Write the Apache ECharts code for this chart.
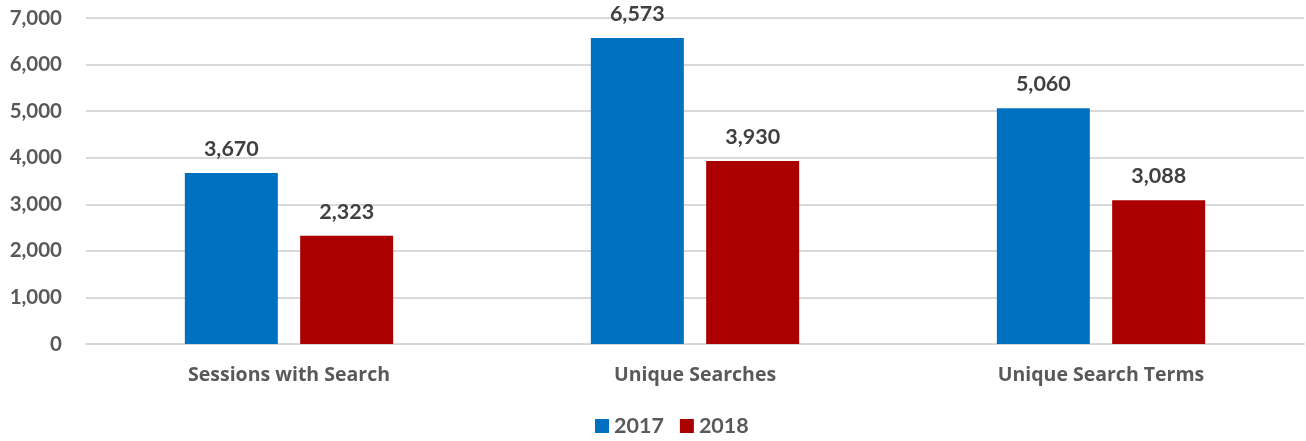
<!DOCTYPE html>
<html>
<head>
<meta charset="utf-8">
<script src="https://cdn.jsdelivr.net/npm/echarts@6/dist/echarts.min.js"></script>
<style>
  html, body { margin: 0; padding: 0; background: #fff; }
  #chart { width: 1306px; height: 441px; }
</style>
</head>
<body>
<div id="chart"></div>
<script>
// Search activity by year
const categories = ['Sessions with Search', 'Unique Searches', 'Unique Search Terms'];
const values2017 = [3670, 6573, 5060];
const values2018 = [2323, 3930, 3088];
const seriesNames = ['2017', '2018'];

const FONT = 'Lato, "Open Sans", sans-serif';
const WIDE_FONT = '"Open Sans", Lato, sans-serif';

const chart = echarts.init(document.getElementById('chart'), null, { renderer: 'canvas' });

const labelStyle = {
  show: true,
  position: 'top',
  distance: 13,
  fontFamily: FONT,
  fontWeight: 'bold',
  fontSize: 21.5,
  color: '#404040',
  formatter: p => p.value.toLocaleString('en-US')
};

chart.setOption({
  animation: false,
  grid: { left: 86, right: 2, top: 18, bottom: 97, containLabel: false },
  legend: {
    data: seriesNames,
    bottom: -1,
    left: 590,
    itemWidth: 14,
    itemHeight: 14,
    itemGap: 16,
    icon: 'rect',
    textStyle: { fontFamily: FONT, fontWeight: 'bold', fontSize: 21.5, color: '#595959' }
  },
  xAxis: {
    type: 'category',
    data: categories,
    axisLine: { show: true, lineStyle: { color: '#d9d9d9', width: 2 } },
    axisTick: { show: false },
    axisLabel: {
      margin: 21,
      fontFamily: WIDE_FONT,
      fontWeight: 'bold',
      fontSize: 19.5,
      color: '#595959'
    }
  },
  yAxis: {
    type: 'value',
    min: 0,
    max: 7000,
    interval: 1000,
    axisLine: { show: false },
    axisTick: { show: false },
    splitLine: { lineStyle: { color: '#d9d9d9', width: 2 } },
    axisLabel: {
      margin: 24,
      fontFamily: FONT,
      fontWeight: 'bold',
      fontSize: 20.5,
      color: '#595959',
      formatter: v => v.toLocaleString('en-US')
    }
  },
  series: [
    {
      name: seriesNames[0],
      type: 'bar',
      data: values2017,
      barWidth: 93,
      barGap: '24%',
      itemStyle: { color: '#0070C0' },
      label: labelStyle
    },
    {
      name: seriesNames[1],
      type: 'bar',
      data: values2018,
      barWidth: 93,
      itemStyle: { color: '#AA0000' },
      label: labelStyle
    }
  ]
});
</script>
</body>
</html>
